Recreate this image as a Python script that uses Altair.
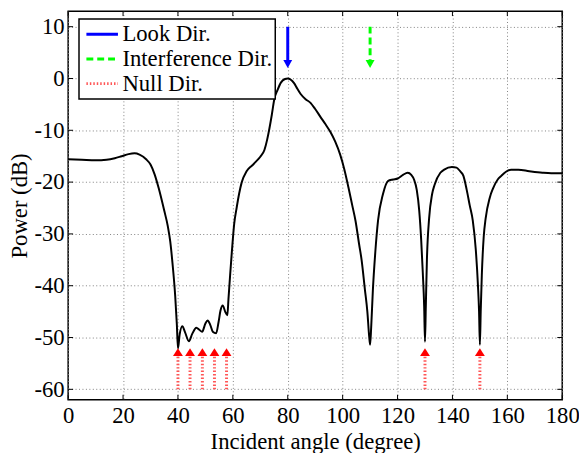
import altair as alt
import pandas as pd

# ---------------- data ----------------
angle = [0, 5, 10, 14, 17, 19.5, 22, 24.2, 26, 28.4, 30, 31.5, 33, 35, 36.3, 37.2, 38, 39, 39.6,
         40, 40.6, 41.6, 42.6, 44, 45.2, 46.7, 47.8, 48.8, 50, 50.8, 51.8, 52.7, 53.9, 54.8, 55.5,
         56.3, 57.2, 58, 58.4, 59, 59.6, 60.5, 61.4, 62.3, 63.2, 65, 67, 68.5, 70, 71.5, 72.5,
         73.3, 74.2, 75.1, 76.3, 77.5, 79, 80, 81, 82.3, 83.5, 84.7, 86.5, 88.3, 90, 91.9, 93.7,
         95.5, 97.3, 99.1, 100.6, 102.1, 103.5, 104.7, 106, 106.9, 108.1, 109, 109.7, 110, 110.4,
         111, 111.9, 112.9, 114.7, 116.5, 118.3, 120.1, 122, 123.7, 125, 126, 127, 127.9, 128.6,
         129.2, 129.7, 130, 130.3, 130.7, 131.5, 132.6, 133.5, 135.6, 137, 139.8, 141.5, 142.8,
         144, 145.2, 146.3, 147.4, 148.5, 149.3, 149.7, 150, 150.3, 150.7, 151.4, 152.1, 153.6,
         154.8, 156.5, 157.8, 159.5, 161.4, 164, 168, 172.8, 176, 180]
power = [-15.6, -15.7, -15.8, -15.7, -15.4, -15.0, -14.6, -14.45, -14.7, -15.6, -16.6, -18.5,
         -21.2, -25.5, -28.5, -31.5, -35.6, -42, -47.5,
         -52.1, -49.5, -47.8, -49, -50.7, -49.3, -48.1, -48.5, -48.9, -47.3, -46.7, -47.6, -48.9,
         -49.2, -47, -44.8, -43.8, -45, -45.7, -42.6, -38, -33.7, -28, -24.9, -22.2, -20.1, -17.9,
         -16.8, -16.0, -15.1, -13.8, -11.8, -9.7, -7.0, -4.0, -2.2, -0.8, -0.1, 0, -0.2, -0.9,
         -2.0, -3.0, -4.0, -4.7, -5.9, -7.4, -8.8, -10.3, -12.2, -14.7, -17.5, -21, -24.5, -27.5,
         -32, -35, -40.7, -45, -50, -51.4, -48, -41, -33.5, -27.4, -22.3, -19.8, -19.5, -19.3,
         -18.6, -18.2, -18.6, -19.5, -21.5, -25.5, -31, -37.5, -44, -50.8, -44, -35, -27, -22.3,
         -20.5, -18.2, -17.6, -17.1, -17.2, -17.9, -18.8, -21.5, -24.5, -27.4, -33, -40, -45,
         -51.4, -45, -38, -30.5, -27, -23, -21.2, -19.5, -18.8, -18, -17.6, -17.6, -17.9, -18.2,
         -18.3, -18.3]

types = ["Look Dir.", "Interference Dir.", "Null Dir."]
look_x = [80]
interf_x = [110]
null_x = [40, 44.4, 48.9, 53.3, 57.7, 130, 150]

arrow_top = 10        # dB where look/interference arrows start
arrow_end = 3.5       # dB where their shafts end
arrow_head = 2.8      # dB of their heads
null_bottom = -60     # dB where null arrows start
null_end = -53.4
null_head = -52.8

x_ticks = [0, 20, 40, 60, 80, 100, 120, 140, 160, 180]
y_ticks = [-60, -50, -40, -30, -20, -10, 0, 10]

# ---------------- tables ----------------
curve_df = pd.DataFrame({"angle": angle, "power": power})
rows = []
for v in look_x:
    rows.append({"type": types[0], "x": v, "y1": arrow_top, "y2": arrow_end, "h": arrow_head})
for v in interf_x:
    rows.append({"type": types[1], "x": v, "y1": arrow_top, "y2": arrow_end, "h": arrow_head})
for v in null_x:
    rows.append({"type": types[2], "x": v, "y1": null_bottom, "y2": null_end, "h": null_head})
arrow_df = pd.DataFrame(rows)
xt_df = pd.DataFrame({"v": x_ticks})
yt_df = pd.DataFrame({"v": y_ticks})

W, H = 501, 394
FONT = "Liberation Serif"
FS = 23

xscale = alt.Scale(domain=[0, 180], nice=False, zero=False)
yscale = alt.Scale(domain=[-62, 13], nice=False, zero=False)

xaxis = alt.Axis(values=x_ticks, title="Incident angle (degree)", labelPadding=5,
                 titlePadding=3, labelFlush=False, labelExpr="'' + datum.value")
yaxis = alt.Axis(values=y_ticks, title="Power (dB)", labelPadding=4, titlePadding=3,
                 labelFlush=False, labelExpr="'' + datum.value")

curve = alt.Chart(curve_df).mark_line(color="black", strokeWidth=2, interpolate="monotone").encode(
    x=alt.X("angle:Q", scale=xscale, axis=xaxis),
    y=alt.Y("power:Q", scale=yscale, axis=yaxis),
)

leg = alt.Legend(title=None, orient="none", legendX=11, legendY=8, fillColor="white",
                 strokeColor="black", padding=3, symbolType="stroke", symbolSize=1024,
                 symbolOffset=3, labelOffset=3, labelFont=FONT, labelFontSize=FS,
                 labelColor="black", clipHeight=25, rowPadding=0)

shafts = alt.Chart(arrow_df).mark_rule().encode(
    x=alt.X("x:Q", scale=xscale),
    y=alt.Y("y1:Q", scale=yscale),
    y2="y2:Q",
    color=alt.Color("type:N", scale=alt.Scale(domain=types, range=["#0000ff", "#00ff00", "#ff5555"]),
                    legend=leg),
    strokeDash=alt.StrokeDash("type:N", scale=alt.Scale(domain=types, range=[[1, 0], [7, 4], [1.5, 2]]),
                              legend=leg),
    strokeWidth=alt.StrokeWidth("type:N", scale=alt.Scale(domain=types, range=[3, 3, 1.2]),
                                legend=leg),
)

down_path = "M-1,-0.9L1,-0.9L0,0.9Z"
up_path = "M-1,0.78L1,0.78L0,-0.78Z"

def heads(tp, color, shape, size):
    return alt.Chart(arrow_df).transform_filter(alt.datum.type == tp).mark_point(
        shape=shape, filled=True, size=size, color=color, opacity=1, strokeWidth=0
    ).encode(x=alt.X("x:Q", scale=xscale), y=alt.Y("h:Q", scale=yscale))

look_head = heads(types[0], "#0000ff", down_path, 81)
interf_head = heads(types[1], "#00ff00", down_path, 81)
null_head_m = heads(types[2], "#ff0000", up_path, 100)

# inward ticks on all four sides
tick_style = dict(color="black", strokeWidth=1)
xt_bot = alt.Chart(xt_df).mark_rule(**tick_style).encode(
    x=alt.X("v:Q", scale=xscale), y=alt.value(H), y2=alt.value(H - 5))
xt_top = alt.Chart(xt_df).mark_rule(**tick_style).encode(
    x=alt.X("v:Q", scale=xscale), y=alt.value(0), y2=alt.value(5))
yt_left = alt.Chart(yt_df).mark_rule(**tick_style).encode(
    y=alt.Y("v:Q", scale=yscale), x=alt.value(0), x2=alt.value(5))
yt_right = alt.Chart(yt_df).mark_rule(**tick_style).encode(
    y=alt.Y("v:Q", scale=yscale), x=alt.value(W), x2=alt.value(W - 5))

chart = alt.layer(
    curve, shafts, look_head, interf_head, null_head_m, xt_bot, xt_top, yt_left, yt_right
).properties(
    width=W, height=H,
    autosize=alt.AutoSizeParams(type="none"),
    padding={"left": 61, "top": 0, "right": 17, "bottom": 60},
    background="white",
).configure_view(
    stroke="black", strokeWidth=1.5
).configure_axis(
    labelFont=FONT, labelFontSize=FS, labelColor="black",
    titleFont=FONT, titleFontSize=FS, titleFontWeight="normal", titleColor="black",
    tickSize=0, domain=False, grid=True, gridColor="#808080", gridDash=[1, 2.5], gridWidth=1,
).configure_legend(
    strokeWidth=1.5
)

chart.save("out.html", embed_options={"renderer": "svg", "actions": False})
